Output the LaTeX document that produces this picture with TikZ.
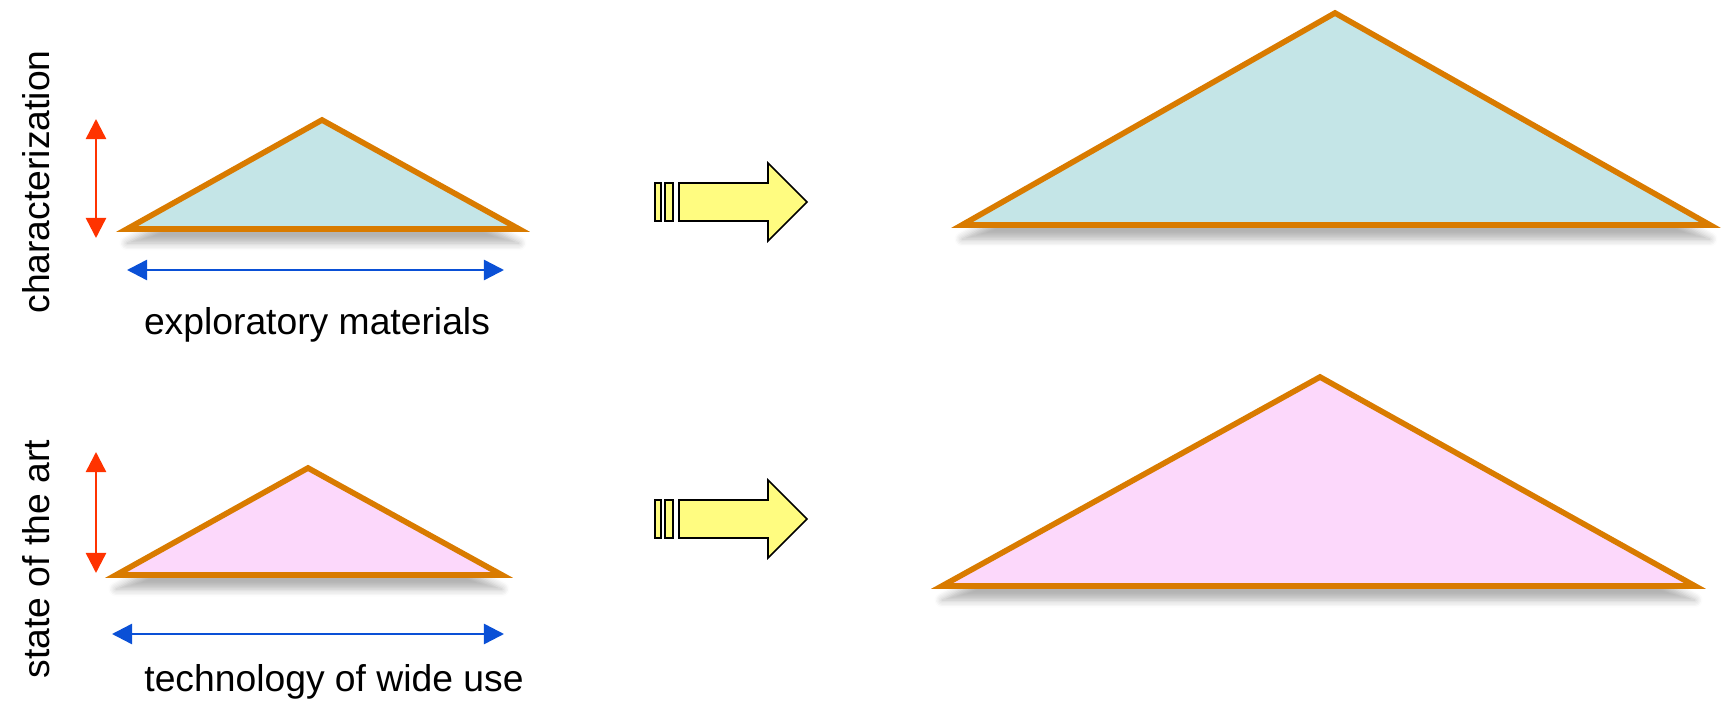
\documentclass[tikz,border=0pt]{standalone}
\usepackage{fontspec}
\setmainfont{Liberation Sans}
\usetikzlibrary{arrows.meta,shadows.blur}
\definecolor{TriOrange}{RGB}{217,123,0}
\definecolor{TriBlue}{RGB}{196,229,231}
\definecolor{TriPink}{RGB}{252,216,251}
\definecolor{DimRed}{RGB}{255,51,0}
\definecolor{DimBlue}{RGB}{10,80,214}
\definecolor{FatYellow}{RGB}{255,252,128}

\begin{document}
\begin{tikzpicture}[x=0.01cm,y=-0.01cm,
  tri/.style={draw=TriOrange,line width=1.6pt,line join=miter,
              blur shadow={shadow xshift=0pt,shadow yshift=-4pt,shadow blur steps=6,shadow opacity=30}},
  vdim/.style={DimRed,line width=0.7pt,{Triangle[length=2mm,width=2mm]}-{Triangle[length=2mm,width=2mm]}},
  hdim/.style={DimBlue,line width=0.7pt,{Triangle[length=2mm,width=2mm]}-{Triangle[length=2mm,width=2mm]}},
  lbl/.style={font=\fontsize{10.6}{12}\selectfont,inner sep=0pt},
  fat/.style={draw=black,fill=FatYellow,line width=0.45pt,line join=miter},
]
\useasboundingbox (0,0) rectangle (1725,707);
\coordinate (redTopA) at (96,119);
\coordinate (redTopB) at (96,238);
\coordinate (blueTopA) at (127,270);
\coordinate (blueTopB) at (504,270);
\coordinate (redBotA) at (96,452);
\coordinate (redBotB) at (96,573);
\coordinate (blueBotA) at (112,634);
\coordinate (blueBotB) at (504,634);
\draw[tri,fill=TriBlue] (127,229) -- (322,120) -- (519,229) -- cycle;
\draw[tri,fill=TriPink] (116,575) -- (308,468) -- (502,575) -- cycle;
\draw[tri,fill=TriBlue] (962,225) -- (1335,13) -- (1710,225) -- cycle;
\draw[tri,fill=TriPink] (942,586) -- (1320,377) -- (1695,586) -- cycle;
\draw[vdim] (redTopA) -- (redTopB);
\draw[vdim] (redBotA) -- (redBotB);
\draw[hdim] (blueTopA) -- (blueTopB);
\draw[hdim] (blueBotA) -- (blueBotB);
\foreach \y in {202,519} {
  \draw[fat] (655,\y-19) rectangle (661,\y+19);
  \draw[fat] (665,\y-19) rectangle (673,\y+19);
  \draw[fat] (679,\y-19) -- (768,\y-19) -- (768,\y-39) -- (807,\y)
    -- (768,\y+39) -- (768,\y+19) -- (679,\y+19) -- cycle;
}
\node[lbl,rotate=90] (charLbl) at (36,182) {characterization};
\node[lbl,rotate=90] (stateLbl) at (36,559) {state of the art};
\node[lbl] (explLbl) at (317,325) {exploratory materials};
\node[lbl] (techLbl) at (334,682) {technology of wide use};
\end{tikzpicture}
\end{document}
